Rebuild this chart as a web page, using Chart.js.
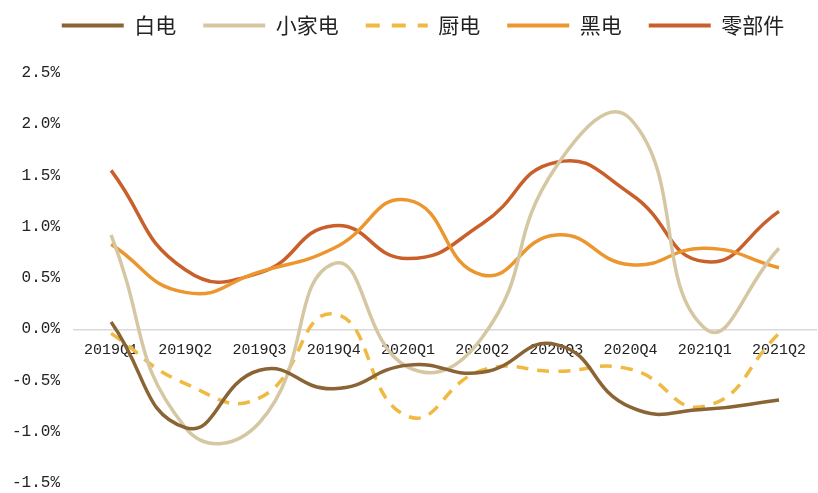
<!DOCTYPE html>
<html>
<head>
<meta charset="utf-8">
<script src="https://cdn.jsdelivr.net/npm/chart.js@4.4.0/dist/chart.umd.min.js"></script>
<style>
  html, body { margin: 0; padding: 0; background: #fff; }
  #wrap { width: 818px; height: 493px; }
</style>
</head>
<body>
<div id="wrap"><canvas id="growthChart"></canvas></div>
<script>
// quarterly share change by product group, in percent
const quarters = ['2019Q1', '2019Q2', '2019Q3', '2019Q4', '2020Q1', '2020Q2', '2020Q3', '2020Q4', '2021Q1', '2021Q2'];
const baiDian   = [0.07, -0.96, -0.40, -0.58, -0.35, -0.42, -0.15, -0.76, -0.78, -0.69];
const xiaoJiaDian = [0.92, -0.96, -0.91, 0.64, -0.37, -0.08, 1.59, 2.05, 0.01, 0.79];
const chuDian   = [-0.04, -0.53, -0.67, 0.15, -0.85, -0.40, -0.41, -0.39, -0.75, -0.04];
const heiDian   = [0.83, 0.36, 0.56, 0.79, 1.26, 0.53, 0.92, 0.63, 0.79, 0.60];
const lingBuJian = [1.55, 0.58, 0.55, 1.01, 0.69, 1.03, 1.63, 1.32, 0.66, 1.15];
const yTicks = [-1.5, -1.0, -0.5, 0.0, 0.5, 1.0, 1.5, 2.0, 2.5];

function line(label, data, color, dash, legendDash) {
  return {
    label: label,
    data: data,
    borderColor: color,
    backgroundColor: color,
    borderWidth: 3.5,
    borderDash: dash || [],
    legendDash: legendDash || [],
    pointRadius: 0,
    pointHoverRadius: 0,
    tension: 0.5,
    fill: false
  };
}

const monoFamily = '"Liberation Mono", "DejaVu Sans Mono", monospace';

// extra gap under the legend row, and nudge the row a little to the right
const legendGap = {
  id: 'legendGap',
  beforeInit(chart) {
    const fit = chart.legend.fit;
    chart.legend.fit = function () {
      fit.call(this);
      this.height += 27;
    };
  },
  afterLayout(chart) {
    chart.legend.left += 8;
    chart.legend.right += 8;
  }
};

const ctx = document.getElementById('growthChart').getContext('2d');
const myChart = new Chart(ctx, {
  type: 'line',
  data: {
    labels: quarters,
    datasets: [
      line('白电', baiDian, '#8a6434'),
      line('小家电', xiaoJiaDian, '#d6c7a3'),
      line('厨电', chuDian, '#efb942', [12, 9], [14, 12]),
      line('黑电', heiDian, '#ec962f'),
      line('零部件', lingBuJian, '#c9602b')
    ]
  },
  plugins: [legendGap],
  options: {
    responsive: true,
    maintainAspectRatio: false,
    animation: false,
    layout: { padding: { left: 12, right: 0, top: -12, bottom: 10 } },
    plugins: {
      tooltip: { enabled: false },
      legend: {
        position: 'top',
        labels: {
          usePointStyle: true,
          pointStyleWidth: 62,
          padding: 27,
          color: '#222',
          font: { family: '"Noto Sans CJK SC", sans-serif', size: 21 },
          generateLabels: (chart) => chart.data.datasets.map((ds, i) => ({
            text: ds.label,
            fillStyle: ds.borderColor,
            strokeStyle: ds.borderColor,
            lineWidth: 4,
            lineDash: ds.legendDash,
            lineCap: 'butt',
            pointStyle: 'line',
            fontColor: '#222',
            hidden: false,
            datasetIndex: i
          }))
        }
      }
    },
    scales: {
      x: {
        position: { y: 0 },
        offset: true,
        grid: { display: false, drawTicks: false },
        border: { color: '#d9d9d9', width: 1.5 },
        afterFit: (scale) => { scale.height = 0; },
        ticks: {
          color: '#222',
          font: { family: monoFamily, size: 15 },
          padding: 12,
          maxRotation: 0,
          autoSkip: false
        }
      },
      y: {
        min: -1.5,
        max: 2.5,
        grid: { display: false, drawTicks: false },
        border: { display: false },
        afterBuildTicks: (scale) => { scale.ticks = yTicks.map(v => ({ value: v })); },
        afterFit: (scale) => {
          scale.width = 62;
          scale.paddingTop = 0;
          scale.paddingBottom = 0;
        },
        ticks: {
          color: '#222',
          font: { family: monoFamily, size: 16 },
          padding: 14,
          callback: (v) => v.toFixed(1) + '%'
        }
      }
    }
  }
});
</script>
</body>
</html>
